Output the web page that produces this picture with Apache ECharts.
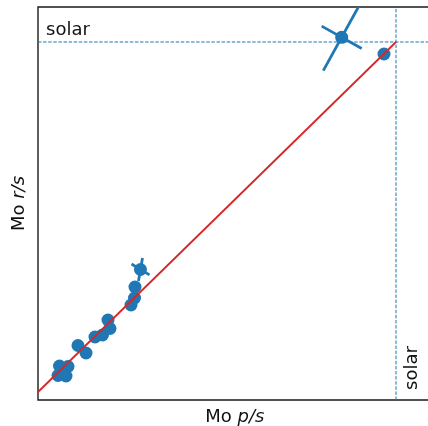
<!DOCTYPE html>
<html>
<head>
<meta charset="utf-8">
<script src="https://cdn.jsdelivr.net/npm/echarts@6/dist/echarts.min.js"></script>
<style>
  html, body { margin: 0; padding: 0; background: #fff; }
  #chart { width: 428px; height: 426px; }
</style>
</head>
<body>
<div id="chart"></div>
<script>
// ---- data (arbitrary units; solar = 1, 1) ----
const pointX = [0.0601, 0.0838, 0.0559, 0.0782, 0.1117, 0.1341, 0.1592, 0.1802, 0.1955, 0.2011, 0.2598, 0.2696, 0.2709, 0.2863, 0.8483, 0.9665];
const pointY = [0.0743, 0.0729, 0.0471, 0.0457, 0.1329, 0.1114, 0.1571, 0.1629, 0.2057, 0.1814, 0.2486, 0.2686, 0.3000, 0.3500, 1.0134, 0.9657];
// error-ellipse axes for points with uncertainties: x, y, half-axis 1 (dx,dy), half-axis 2 (dx,dy)
const errX = [0.2863, 0.8483];
const errY = [0.3500, 1.0134];
const errA = [[0.0056, 0.0329], [0.0514, 0.0954]];
const errB = [[0.0251, -0.0155], [0.0559, -0.0319]];
const oneToOneX = [0, 1];
const solarX = 1;
const solarY = 1;
const xRange = [0, 1.1];
const yRange = [-0.0229, 1.1];

const FONT = 'DejaVu Sans';
const BLUE = '#1f77b4';

const scatterData = pointX.map((x, i) => [x, pointY[i]]);
const errData = errX.map((x, i) => [x, errY[i], errA[i][0], errA[i][1], errB[i][0], errB[i][1]]);
const lineData = oneToOneX.map(v => [v, v]);
const hSolar = [[xRange[0], solarY], [xRange[1], solarY]];
const vSolar = [[solarX, yRange[0]], [solarX, yRange[1]]];

const chart = echarts.init(document.getElementById('chart'), null, { renderer: 'canvas' });
chart.setOption({
  animation: false,
  backgroundColor: '#fff',
  grid: {
    show: true,
    outerBoundsMode: 'none',
    containLabel: false,
    left: 38, top: 7,
    width: (xRange[1] - xRange[0]) * 358,
    height: 393,
    borderColor: '#1a1a1a',
    borderWidth: 1.4,
    backgroundColor: 'transparent'
  },
  xAxis: {
    type: 'value', min: xRange[0], max: xRange[1],
    axisLine: { show: false }, axisTick: { show: false }, axisLabel: { show: false }, splitLine: { show: false },
    name: '{n|Mo }{i|p/s}',
    nameLocation: 'middle',
    nameGap: 6,
    nameTextStyle: {
      verticalAlign: 'top',
      rich: {
        n: { fontFamily: FONT, fontSize: 18, color: '#111', lineHeight: 22 },
        i: { fontFamily: FONT, fontSize: 18, color: '#111', fontStyle: 'italic', lineHeight: 22 }
      }
    }
  },
  yAxis: {
    type: 'value', min: yRange[0], max: yRange[1],
    axisLine: { show: false }, axisTick: { show: false }, axisLabel: { show: false }, splitLine: { show: false },
    name: '{n|Mo }{i|r/s}',
    nameLocation: 'middle',
    nameGap: 8,
    nameRotate: 90,
    nameTextStyle: {
      verticalAlign: 'bottom',
      rich: {
        n: { fontFamily: FONT, fontSize: 18, color: '#111', lineHeight: 22 },
        i: { fontFamily: FONT, fontSize: 18, color: '#111', fontStyle: 'italic', lineHeight: 22 }
      }
    }
  },
  series: [
    {
      type: 'line', z: 1, silent: true, data: hSolar, symbol: 'none', showSymbol: false,
      lineStyle: { color: BLUE, width: 1, type: [3.5, 1.6] }
    },
    {
      type: 'line', z: 1, silent: true, data: vSolar, symbol: 'none', showSymbol: false,
      lineStyle: { color: BLUE, width: 1, type: [3.5, 1.6] }
    },
    {
      type: 'custom',
      z: 3,
      silent: true,
      data: errData,
      renderItem: function (params, api) {
        const x = api.value(0), y = api.value(1);
        const ax = api.value(2), ay = api.value(3), bx = api.value(4), by = api.value(5);
        const p1 = api.coord([x - ax, y - ay]), p2 = api.coord([x + ax, y + ay]);
        const q1 = api.coord([x - bx, y - by]), q2 = api.coord([x + bx, y + by]);
        const cs = params.coordSys;
        const st = { stroke: BLUE, lineWidth: 2.8, lineCap: 'butt' };
        return {
          type: 'group',
          clipPath: { type: 'rect', shape: { x: cs.x, y: cs.y, width: cs.width, height: cs.height } },
          children: [
            { type: 'line', shape: { x1: p1[0], y1: p1[1], x2: p2[0], y2: p2[1] }, style: st },
            { type: 'line', shape: { x1: q1[0], y1: q1[1], x2: q2[0], y2: q2[1] }, style: st }
          ]
        };
      }
    },
    {
      type: 'scatter',
      z: 4,
      data: scatterData,
      symbol: 'circle',
      symbolSize: 13,
      itemStyle: { color: BLUE, opacity: 1 }
    },
    {
      type: 'line',
      z: 5,
      data: lineData,
      showSymbol: false,
      symbol: 'none',
      lineStyle: { color: '#d62728', width: 1.8 },
      silent: true
    },
    {
      type: 'custom',
      z: 6,
      silent: true,
      data: [[xRange[0], solarY, 0], [solarX, yRange[0], 1]],
      renderItem: function (params, api) {
        const p = api.coord([api.value(0), api.value(1)]);
        const vertical = api.value(2) === 1;
        if (!vertical) {
          return {
            type: 'text', x: p[0] + 8, y: p[1] - 11.5,
            style: { text: 'solar', fontFamily: FONT, fontSize: 18, fill: '#111', align: 'left', verticalAlign: 'middle' }
          };
        }
        return {
          type: 'text', x: p[0] + 16, y: p[1] - 10, rotation: Math.PI / 2,
          style: { text: 'solar', fontFamily: FONT, fontSize: 18, fill: '#111', align: 'left', verticalAlign: 'middle' }
        };
      }
    }
  ]
});
</script>
</body>
</html>
